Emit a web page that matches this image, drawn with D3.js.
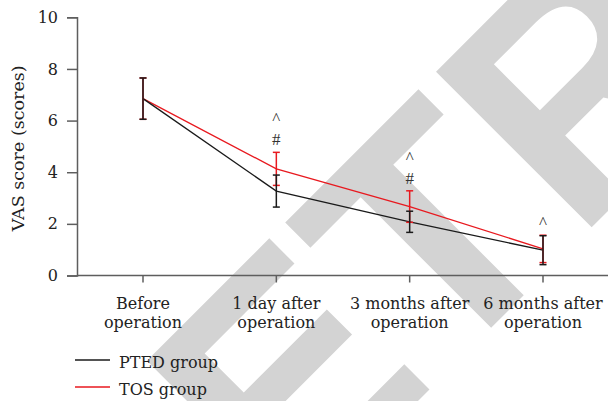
<!DOCTYPE html>
<html>
<head>
<meta charset="utf-8">
<script src="https://cdn.jsdelivr.net/npm/d3@7"></script>
<style>
  html, body { margin: 0; padding: 0; background: #fff; }
  svg { display: block; }
</style>
</head>
<body>
<svg id="chart" width="608" height="401"></svg>
<script>
// Time points on the x axis (two-line labels)
const categories = [
  ["Before", "operation"],
  ["1 day after", "operation"],
  ["3 months after", "operation"],
  ["6 months after", "operation"]
];
const yTicks = [0, 2, 4, 6, 8, 10];

// Mean VAS scores and standard deviations
const ptedMean = [6.85, 3.27, 2.08, 0.98];
const ptedSd   = [0.80, 0.62, 0.41, 0.56];
const tosMean  = [6.85, 4.13, 2.67, 1.03];
const tosSd    = [0.80, 0.64, 0.61, 0.53];

// Significance marks stacked above the TOS error bar at each time point
const marks = [
  { i: 1, symbols: ["#", "^"] },
  { i: 2, symbols: ["#", "^"] },
  { i: 3, symbols: ["^"] }
];

const seriesNames = ["PTED group", "TOS group"];
const seriesColors = ["#1a1a1a", "#e8191f"];

const svg = d3.select("#chart");
const W = 608, H = 401;
const serif = "'DejaVu Serif', serif";

svg.append("rect").attr("width", W).attr("height", H).attr("fill", "#fff");

// Background stamp
svg.append("text")
  .attr("transform", "translate(124,695) rotate(-45)")
  .attr("font-family", "'Liberation Sans', Arial, sans-serif")
  .attr("font-weight", "bold")
  .attr("font-size", 320)
  .attr("fill", "#d3d3d3")
  .text("RETRACTED");

const x = d3.scalePoint()
  .domain(d3.range(categories.length))
  .range([143, 543]);
const y = d3.scaleLinear().domain([0, 10]).range([275.5, 17.3]);

const axisColor = "#5e5e5e";

// y axis
const yAxis = svg.append("g")
  .attr("transform", "translate(77,0)")
  .call(d3.axisLeft(y).tickValues(yTicks).tickSize(10).tickPadding(9).tickFormat(d3.format("d")));
yAxis.select(".domain").attr("stroke", axisColor).attr("stroke-width", 1.5);
yAxis.selectAll(".tick line").attr("stroke", axisColor).attr("stroke-width", 1.5);
yAxis.selectAll(".tick text")
  .attr("font-family", serif).attr("font-size", 16).attr("fill", "#222");

// x axis baseline across the plot
const xAxis = svg.append("g").attr("transform", `translate(0,${y(0)})`);
xAxis.append("line")
  .attr("x1", 77).attr("x2", W)
  .attr("stroke", axisColor).attr("stroke-width", 1.5);
xAxis.selectAll(".xt")
  .data(categories)
  .join("line")
  .attr("class", "xt")
  .attr("x1", (d, i) => x(i)).attr("x2", (d, i) => x(i))
  .attr("y1", 0).attr("y2", 7)
  .attr("stroke", axisColor).attr("stroke-width", 1.5);
xAxis.selectAll(".xl")
  .data(categories)
  .join("text")
  .attr("class", "xl")
  .attr("x", (d, i) => x(i))
  .attr("y", 33)
  .attr("text-anchor", "middle")
  .attr("font-family", serif).attr("font-size", 16).attr("fill", "#222")
  .selectAll("tspan")
  .data(d => d)
  .join("tspan")
  .attr("x", function () { return d3.select(this.parentNode).attr("x"); })
  .attr("dy", (d, k) => k === 0 ? 0 : 19.5)
  .text(d => d);

// y axis title
svg.append("text")
  .attr("transform", `translate(24,${(y(0) + y(10)) / 2 + 2}) rotate(-90)`)
  .attr("text-anchor", "middle")
  .attr("font-family", serif).attr("font-size", 17.5).attr("fill", "#222")
  .text("VAS score (scores)");

// Series: TOS drawn first, PTED on top
const series = [
  { mean: tosMean, sd: tosSd, color: seriesColors[1] },
  { mean: ptedMean, sd: ptedSd, color: seriesColors[0] }
];
const line = d3.line().x((d, i) => x(i)).y(d => y(d));
const capHalf = 3.5;

series.forEach(s => {
  svg.append("path")
    .attr("d", line(s.mean))
    .attr("fill", "none")
    .attr("stroke", s.color)
    .attr("stroke-width", 1.3);
});

series.forEach(s => {
  const g = svg.append("g").attr("stroke", s.color).attr("stroke-width", 1.5);
  s.mean.forEach((m, i) => {
    const top = y(m + s.sd[i]), bot = y(m - s.sd[i]), cx = x(i);
    g.append("line").attr("x1", cx).attr("x2", cx).attr("y1", top).attr("y2", bot);
    g.append("line").attr("x1", cx - capHalf).attr("x2", cx + capHalf).attr("y1", top).attr("y2", top);
    g.append("line").attr("x1", cx - capHalf).attr("x2", cx + capHalf).attr("y1", bot).attr("y2", bot);
  });
});

// Significance marks
marks.forEach(mk => {
  const top = y(tosMean[mk.i] + tosSd[mk.i]);
  mk.symbols.forEach((sym, k) => {
    svg.append("text")
      .attr("x", x(mk.i))
      .attr("y", top - 7 - k * 21)
      .attr("text-anchor", "middle")
      .attr("font-family", "'Liberation Serif', serif")
      .attr("font-size", 17)
      .attr("fill", "#333")
      .text(sym);
  });
});

// Legend
const legend = svg.append("g");
seriesNames.forEach((name, k) => {
  const ly = 360 + k * 27;
  legend.append("line")
    .attr("x1", 75).attr("x2", 110).attr("y1", ly).attr("y2", ly)
    .attr("stroke", seriesColors[k]).attr("stroke-width", 1.3);
  legend.append("text")
    .attr("x", 119).attr("y", ly + 8)
    .attr("font-family", serif).attr("font-size", 16).attr("fill", "#222")
    .text(name);
});
</script>
</body>
</html>
